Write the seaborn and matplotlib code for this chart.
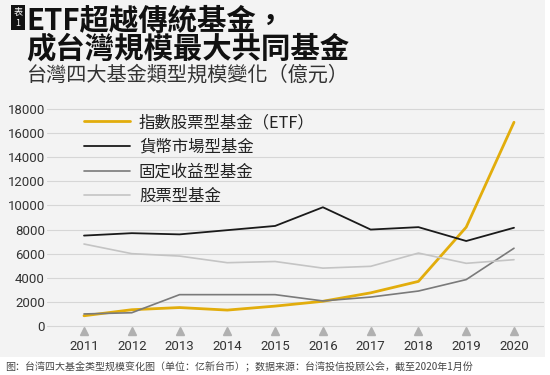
import matplotlib
matplotlib.use("Agg")
import matplotlib.pyplot as plt
import matplotlib.transforms as mtransforms
from matplotlib.patches import Rectangle
import seaborn as sns
import pandas as pd

# Datos (億元)
anios = [2011, 2012, 2013, 2014, 2015, 2016, 2017, 2018, 2019, 2020]
etf = [850, 1350, 1530, 1320, 1650, 2050, 2750, 3700, 8200, 16900]
monetario = [7500, 7700, 7600, 7950, 8300, 9850, 8000, 8200, 7050, 8150]
renta_fija = [1000, 1100, 2600, 2600, 2600, 2080, 2400, 2900, 3850, 6450]
acciones = [6800, 6000, 5800, 5250, 5350, 4800, 4950, 6050, 5200, 5500]

series = ["指數股票型基金（ETF）", "貨幣市場型基金", "固定收益型基金", "股票型基金"]
valores = [etf, monetario, renta_fija, acciones]
colores = ["#e2ad0c", "#1a1a1a", "#7a7a7a", "#c4c4c4"]
grosores = [2.0, 1.3, 1.2, 1.2]
y_ticks = [0, 2000, 4000, 6000, 8000, 10000, 12000, 14000, 16000, 18000]

titulo = "ETF超越傳統基金，\n成台灣規模最大共同基金"
subtitulo = "台灣四大基金類型規模變化（億元）"
nota = "图：台湾四大基金类型规模变化图（单位：亿新台币）；数据来源：台湾投信投顾公会，截至2020年1月份"

sns.set_theme(style="white")
plt.rcParams["font.family"] = ["Noto Sans CJK TC", "DejaVu Sans"]

W, H = 550, 375
fig = plt.figure(figsize=(W / 100, H / 100), dpi=100)
fig.patch.set_facecolor("white")

# panel gris de fondo
fig.patches.append(Rectangle((0, 18 / H), 545 / W, 1 - 18 / H, transform=fig.transFigure,
                             facecolor="#f3f3f3", edgecolor="none", zorder=-10))

ax = fig.add_axes([47 / W, 45 / H, 497 / W, 225 / H])
ax.set_facecolor("none")

df = pd.DataFrame({"anio": anios})
for nombre, vals, c, lw in zip(series, valores, colores, grosores):
    df[nombre] = vals
    sns.lineplot(data=df, x="anio", y=nombre, color=c, linewidth=lw, label=nombre, ax=ax)

ax.set_xlim(2010.2256, 2020.628)
ax.set_ylim(-332, 18332)
ax.set_yticks(y_ticks)
ax.set_xticks(anios)
ax.set_yticklabels([str(v) for v in y_ticks], fontfamily="Roboto", fontsize=9.5, color="#333333")
ax.set_xticklabels([str(v) for v in anios], fontfamily="Roboto", fontsize=9.5, color="#333333")
ax.tick_params(axis="y", length=0, pad=1.5)
ax.tick_params(axis="x", length=0, pad=7.5)
ax.set_xlabel("")
ax.set_ylabel("")
ax.yaxis.grid(True, color="#d6d6d6", linewidth=0.8)
ax.xaxis.grid(False)
ax.set_axisbelow(True)
for s in ax.spines.values():
    s.set_visible(False)

# triángulos bajo cada año
trans = mtransforms.blended_transform_factory(ax.transData, ax.transAxes)
ax.plot(anios, [-0.006] * len(anios), ls="none", marker="^", ms=6, color="#b0b0b0",
        transform=trans, clip_on=False)

leg = ax.legend(loc="upper left", bbox_to_anchor=(84 / W, 1 - 114 / H), bbox_transform=fig.transFigure,
                frameon=False, fontsize=11.8, handlelength=2.8, handletextpad=0.55,
                labelspacing=0.47, borderpad=0, borderaxespad=0)
for t in leg.get_texts():
    t.set_color("#222222")

# títulos (dos líneas en un solo texto)
fig.text(26 / W, 1 - 35 / H, titulo, fontsize=21.2, fontweight="bold", color="#111111",
         va="center", linespacing=0.9)
fig.text(27 / W, 1 - 75 / H, subtitulo, fontsize=14.5, color="#333333", va="center")

# etiqueta 表1
fig.patches.append(Rectangle((11 / W, 1 - 30 / H), 14 / W, 25 / H, transform=fig.transFigure,
                             facecolor="#111111", edgecolor="none"))
fig.text(18 / W, 1 - 12 / H, "表", fontsize=6.5, color="white", ha="center", va="center")
fig.text(18 / W, 1 - 23 / H, "1", fontsize=6.5, color="white", ha="center", va="center")

fig.text(5 / W, 1 - 367 / H, nota, fontsize=7.2, color="#444444", va="center",
         fontfamily=["Noto Sans CJK SC", "DejaVu Sans"])

fig.savefig("out.png", dpi=100)
